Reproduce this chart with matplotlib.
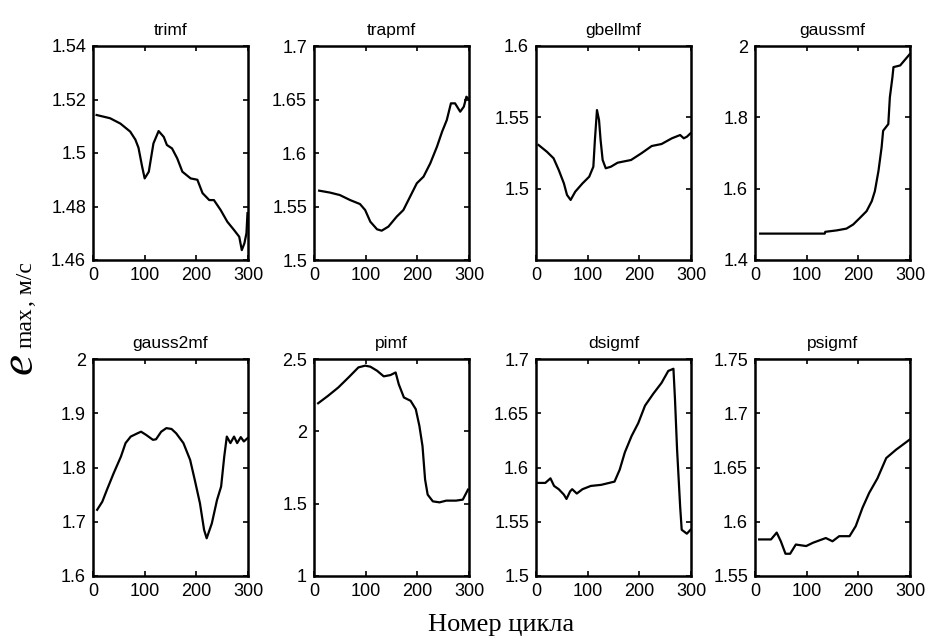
import matplotlib
matplotlib.use("Agg")
import matplotlib.pyplot as plt
from matplotlib.ticker import FuncFormatter

# ---------------- data ----------------
titles = ["trimf", "trapmf", "gbellmf", "gaussmf",
          "gauss2mf", "pimf", "dsigmf", "psigmf"]

trimf_x = [7, 33, 53, 72, 82, 88, 95, 100, 108, 117, 127, 137, 143, 153, 163,
           173, 189, 202, 212, 225, 234, 247, 260, 273, 283, 288, 293, 297, 299]
trimf_y = [1.5142, 1.513, 1.511, 1.508, 1.505, 1.502, 1.495, 1.4905, 1.493,
           1.5036, 1.5082, 1.506, 1.503, 1.5017, 1.498, 1.493, 1.4905, 1.490,
           1.485, 1.4824, 1.4824, 1.4787, 1.4743, 1.4712, 1.4687, 1.4637,
           1.4662, 1.470, 1.4775]

trapmf_x = [10, 31, 50, 70, 89, 99, 109, 122, 131, 144, 160, 173, 186, 199,
            212, 225, 238, 248, 257, 265, 273, 283, 290, 295, 300]
trapmf_y = [1.5648, 1.563, 1.5607, 1.556, 1.5523, 1.5467, 1.5358, 1.5287,
            1.5274, 1.5312, 1.5405, 1.5467, 1.5592, 1.5717, 1.5779, 1.5903,
            1.6059, 1.620, 1.6308, 1.6464, 1.6464, 1.6386, 1.6433, 1.6526,
            1.650]

gbellmf_x = [5, 21, 34, 44, 54, 60, 67, 76, 90, 103, 111, 114, 118, 122, 125,
             129, 135, 145, 158, 184, 204, 224, 243, 263, 279, 286, 292, 299]
gbellmf_y = [1.5306, 1.5259, 1.5213, 1.5131, 1.5037, 1.4956, 1.4921, 1.4979,
             1.5037, 1.5084, 1.5154, 1.5341, 1.5551, 1.5481, 1.5341, 1.5201,
             1.5143, 1.5154, 1.5182, 1.5201, 1.5248, 1.5299, 1.5313, 1.5353,
             1.5376, 1.5353, 1.5364, 1.5388]

gaussmf_x = [10, 60, 100, 135, 136, 158, 177, 190, 203, 216, 226, 232, 239,
             245, 248, 258, 261, 266, 268, 281, 300]
gaussmf_y = [1.474, 1.474, 1.474, 1.474, 1.479, 1.483, 1.488, 1.4995, 1.518,
             1.537, 1.565, 1.593, 1.650, 1.7155, 1.7624, 1.781, 1.856, 1.9127,
             1.9408, 1.9455, 1.978]

gauss2mf_x = [8, 18, 27, 40, 54, 63, 73, 86, 93, 103, 116, 122, 132, 142, 152,
              161, 175, 188, 197, 207, 215, 220, 230, 240, 248, 254, 259, 266,
              273, 279, 286, 292, 299]
gauss2mf_y = [1.722, 1.737, 1.759, 1.7895, 1.820, 1.845, 1.857, 1.863, 1.866,
              1.860, 1.851, 1.852, 1.866, 1.8726, 1.871, 1.863, 1.845, 1.814,
              1.777, 1.734, 1.685, 1.6695, 1.697, 1.740, 1.765, 1.820, 1.857,
              1.845, 1.857, 1.845, 1.856, 1.848, 1.854]

pimf_x = [8, 27, 47, 67, 86, 99, 109, 122, 135, 148, 158, 164, 174, 187, 197,
          204, 210, 215, 220, 230, 243, 256, 275, 288, 298]
pimf_y = [2.194, 2.245, 2.303, 2.373, 2.442, 2.454, 2.447, 2.419, 2.380, 2.389,
          2.407, 2.326, 2.234, 2.211, 2.153, 2.037, 1.898, 1.667, 1.5625, 1.516,
          1.509, 1.521, 1.521, 1.528, 1.597]

dsigmf_x = [2, 18, 28, 35, 44, 54, 59, 66, 70, 79, 90, 106, 126, 152, 162,
            172, 185, 198, 211, 227, 243, 256, 266, 269, 273, 279, 282, 292,
            299]
dsigmf_y = [1.5858, 1.5858, 1.590, 1.583, 1.580, 1.575, 1.571, 1.578, 1.580,
            1.576, 1.580, 1.583, 1.584, 1.587, 1.598, 1.614, 1.629, 1.641,
            1.657, 1.668, 1.678, 1.689, 1.691, 1.663, 1.617, 1.564, 1.5426,
            1.539, 1.5426]

psigmf_x = [8, 31, 42, 50, 59, 68, 79, 99, 112, 137, 150, 163, 183, 195, 208,
            221, 237, 254, 273, 299]
psigmf_y = [1.5837, 1.5837, 1.590, 1.582, 1.5705, 1.5705, 1.579, 1.5776,
            1.5806, 1.585, 1.582, 1.5867, 1.5867, 1.596, 1.6128, 1.6266, 1.640,
            1.6587, 1.6664, 1.6756]

x_ticks = [0, 100, 200, 300]
y_limits = [(1.46, 1.54), (1.5, 1.7), (1.45, 1.6), (1.4, 2.0),
            (1.6, 2.0), (1.0, 2.5), (1.5, 1.7), (1.55, 1.75)]
y_ticks = [[1.46, 1.48, 1.5, 1.52, 1.54],
           [1.5, 1.55, 1.6, 1.65, 1.7],
           [1.5, 1.55, 1.6],
           [1.4, 1.6, 1.8, 2.0],
           [1.6, 1.7, 1.8, 1.9, 2.0],
           [1.0, 1.5, 2.0, 2.5],
           [1.5, 1.55, 1.6, 1.65, 1.7],
           [1.55, 1.6, 1.65, 1.7, 1.75]]

xs = [trimf_x, trapmf_x, gbellmf_x, gaussmf_x,
      gauss2mf_x, pimf_x, dsigmf_x, psigmf_x]
ys = [trimf_y, trapmf_y, gbellmf_y, gaussmf_y,
      gauss2mf_y, pimf_y, dsigmf_y, psigmf_y]

ylabel_e = "e"
ylabel_sub = "max"
ylabel_unit = ", м/с"
xlabel = "Номер цикла"

# ---------------- layout ----------------
W, H = 928, 636
sans = ["Liberation Sans", "DejaVu Sans"]
serif = ["Liberation Serif", "DejaVu Serif"]

fig = plt.figure(figsize=(W / 100, H / 100), dpi=100)
col_left = [93, 314, 536, 755]
ax_w = 155
rows = [(46, 260), (359, 576)]

fmt = FuncFormatter(lambda v, p: f"{v:g}")
for i in range(8):
    r, c = divmod(i, 4)
    top, bot = rows[r]
    ax = fig.add_axes([col_left[c] / W, 1 - bot / H, ax_w / W, (bot - top) / H])
    ax.plot(xs[i], ys[i], color="black", lw=1.6)
    ax.set_xlim(0, 300)
    ax.set_ylim(*y_limits[i])
    ax.set_xticks(x_ticks)
    ax.set_yticks(y_ticks[i])
    ax.yaxis.set_major_formatter(fmt)
    ax.tick_params(direction="in", top=True, right=True, length=3.5,
                   width=1.2, pad=5, labelsize=13)
    for lab in ax.get_xticklabels() + ax.get_yticklabels():
        lab.set_family(sans)
    for s in ax.spines.values():
        s.set_linewidth(1.8)
    ax.set_title(titles[i], fontsize=12.5, family=sans, pad=8)

fig.text(32 / W, 1 - 374 / H, ylabel_e, rotation=90, rotation_mode="anchor",
         ha="left", va="baseline", fontsize=34, family=serif, style="italic")
fig.text(32 / W, 1 - 348 / H, ylabel_sub, rotation=90, rotation_mode="anchor",
         ha="left", va="baseline", fontsize=17, family=serif)
fig.text(32 / W, 1 - 306 / H, ylabel_unit, rotation=90, rotation_mode="anchor",
         ha="left", va="baseline", fontsize=17, family=serif)
fig.text(501 / W, 1 - 631 / H, xlabel, ha="center", va="baseline",
         fontsize=19, family=serif)

fig.savefig("out.png", dpi=100)
